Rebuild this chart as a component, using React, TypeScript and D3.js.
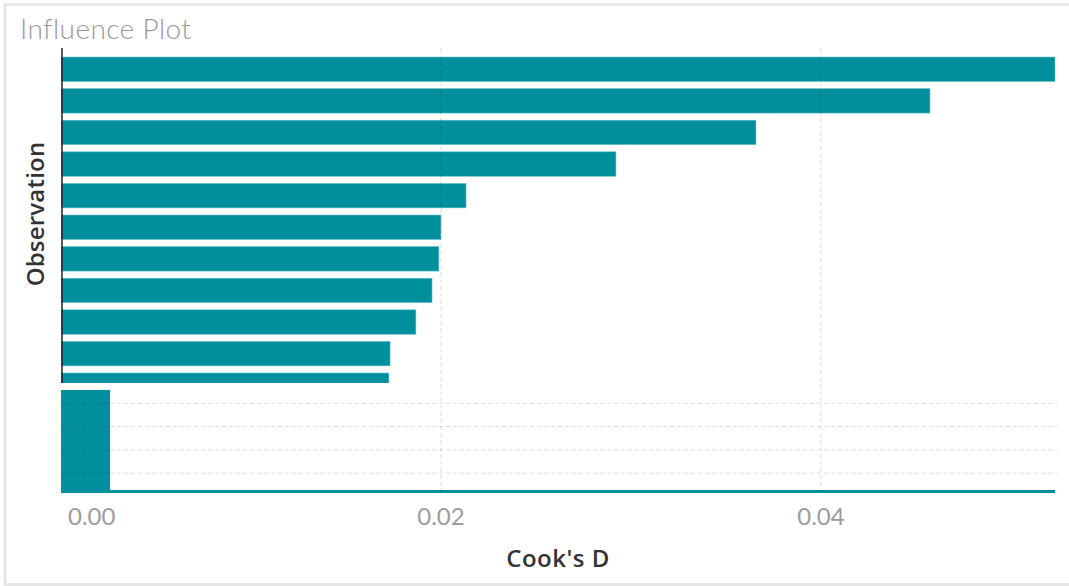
import React from "react";
import * as d3 from "d3";

const observations = ["1", "2", "3", "4", "5", "6", "7", "8", "9", "10", "11"];
const cooksD = [0.05232, 0.04574, 0.03658, 0.02921, 0.02132, 0.02, 0.01989, 0.01953, 0.01868, 0.01732, 0.01726];
const restMaxD = 0.00258;
const overviewLineD = 0.05232;
const xTicks = [0, 0.02, 0.04];
const overviewGrid = [1, 2, 3, 4];

const W = 1069;
const H = 586;
const left = 61;
const right = 1055;
const mainTop = 48;
const mainBottom = 383;
const ovTop = 390;
const ovBottom = 493;
const teal = "#00909d";

export default function App() {
  const x = d3.scaleLinear().domain([0, 0.05232]).range([left, right]);
  const y = d3
    .scaleBand<string>()
    .domain(observations)
    .range([49.9, 404.6])
    .paddingInner(0.225)
    .paddingOuter(0.225);
  const ov = d3.scaleLinear().domain([0, 5]).range([380, 496.5]);
  const fmt = d3.format(".2f");

  return (
    <svg
      width={W}
      height={H}
      style={{ position: "absolute", left: 0, top: 0, background: "#fff" }}
    >
      <defs>
        <clipPath id="mainClip">
          <rect x={left} y={mainTop} width={right - left + 2} height={mainBottom - mainTop} />
        </clipPath>
      </defs>
      <rect x={5} y={4.5} width={1120} height={580} fill="none" stroke="#e4e4e4" strokeWidth={2.5} />
      <text x={20} y={39} fontFamily="Lato, sans-serif" fontWeight={300} fontSize={28} letterSpacing={0.4} fill="#9a9a9a">
        Influence Plot
      </text>

      <g clipPath="url(#mainClip)">
        {observations.map((o, i) => (
          <rect
            key={o}
            x={x(0)}
            y={y(o)}
            width={x(cooksD[i]) - x(0)}
            height={y.bandwidth()}
            fill={teal}
            stroke="#6cc4cc"
            strokeWidth={0.6}
          />
        ))}
      </g>

      {/* overview region */}
      <rect x={x(0)} y={ovTop} width={x(restMaxD) - x(0)} height={ovBottom - ovTop} fill={teal} />
      <rect x={x(0)} y={ovBottom - 3} width={x(overviewLineD) - x(0)} height={3} fill={teal} />

      {overviewGrid.map((g) => (
        <line
          key={g}
          x1={left}
          x2={right + 2}
          y1={ov(g)}
          y2={ov(g)}
          stroke="#000"
          strokeOpacity={0.15}
          strokeDasharray="4,3"
        />
      ))}

      {xTicks
        .filter((t) => t > 0)
        .map((t) => (
          <line
            key={t}
            x1={x(t)}
            x2={x(t)}
            y1={mainTop}
            y2={ovBottom}
            stroke="#000"
            strokeOpacity={0.15}
            strokeDasharray="4,3"
          />
        ))}

      <line x1={62} x2={62} y1={mainTop} y2={mainBottom} stroke="#222" strokeWidth={1.5} />

      {xTicks.map((t, i) => (
        <text
          key={t}
          x={i === 0 ? x(t) + 7 : x(t)}
          y={525}
          textAnchor={i === 0 ? "start" : "middle"}
          fontFamily="Lato, sans-serif"
          fontSize={24}
          fill="#9c9c9c"
        >
          {fmt(t)}
        </text>
      ))}

      <text
        x={(left + right) / 2}
        y={567}
        textAnchor="middle"
        fontFamily="'Open Sans', sans-serif"
        fontWeight={600}
        fontSize={24}
        letterSpacing={0.5}
        fill="#333"
      >
        Cook's D
      </text>
      <text
        transform={`translate(44,214) rotate(-90)`}
        textAnchor="middle"
        fontFamily="'Open Sans', sans-serif"
        fontWeight={600}
        fontSize={24}
        letterSpacing={0.2}
        fill="#333"
      >
        Observation
      </text>
    </svg>
  );
}
